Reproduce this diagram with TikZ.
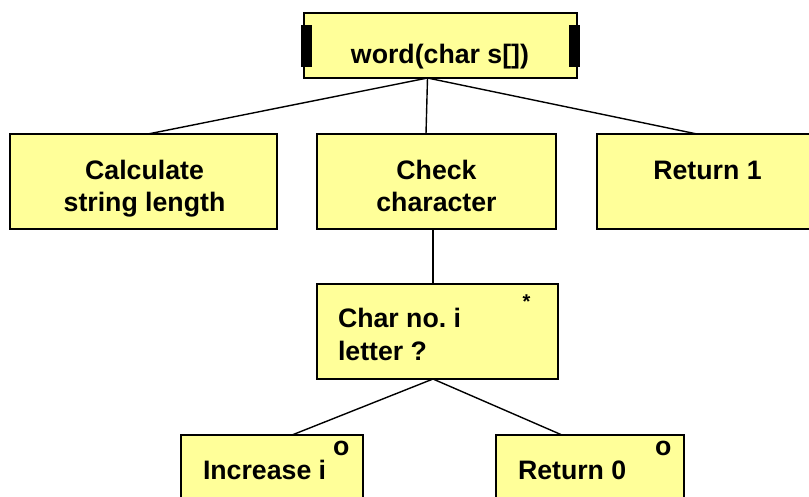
\documentclass[tikz,border=0pt]{standalone}
\usepackage{fontspec}
\setmainfont{Liberation Sans}
\usetikzlibrary{calc}
\definecolor{boxyellow}{HTML}{FFFF99}
\frenchspacing
\begin{document}
\begin{tikzpicture}[x=1pt,y=-1pt,
  box/.style={draw=black, line width=2pt, fill=boxyellow, inner sep=0pt, outer sep=0pt, anchor=north west, shape=rectangle},
  lbl/.style={font=\fontsize{26.7}{32}\selectfont\bfseries\frenchspacing, inner sep=0pt, outer sep=0pt, anchor=base},
  lbll/.style={lbl, anchor=base west},
  smallmark/.style={inner sep=0pt, outer sep=0pt},
  bar/.style={fill=black, draw=none},
  conn/.style={line width=1.4pt, draw=black}]
\useasboundingbox (0,0) rectangle (809,496);
\clip (0,0) rectangle (809,496);

% boxes
\node[box, minimum width=273pt, minimum height=65pt] (top) at (304,13) {};
\node[box, minimum width=267pt, minimum height=95pt] (b1) at (10,134) {};
\node[box, minimum width=239pt, minimum height=95pt] (b2) at (317,134) {};
\node[box, minimum width=225pt, minimum height=95pt] (b3) at (597,134) {};
\node[box, minimum width=241pt, minimum height=95pt] (c) at (317,284) {};
\node[box, minimum width=182pt, minimum height=105pt] (d1) at (181,435) {};
\node[box, minimum width=188pt, minimum height=105pt] (d2) at (496,435) {};

% bars of the top box
\fill[bar] (301,25) rectangle (312,67);
\fill[bar] (569,25) rectangle (580,67);

% texts
\node[lbl] (ttop) at (440,63) {word(char s[])};
\node[lbl] (t1a) at (144.5,179.5) {Calculate};
\node[lbl] (t1b) at (144.5,211.5) {string length};
\node[lbl] (t2a) at (436.5,179.5) {Check};
\node[lbl] (t2b) at (436.5,211.5) {character};
\node[lbl] (t3) at (707.5,179.5) {Return 1};
\node[lbll] (tca) at (338,327.5) {Char no. i};
\node[lbll] (tcb) at (338,360) {letter ?};
\node[smallmark, font=\fontsize{20}{24}\selectfont\bfseries, anchor=north] (star) at (526.5,295) {*};
\node[lbll] (td1) at (203,479.5) {Increase i};
\node[lbll] (od1) at (333,455) {o};
\node[lbll] (td2) at (518,479.5) {Return 0};
\node[lbll] (od2) at (655,455) {o};

% connectors
\coordinate (j1) at ([xshift=-13pt]top.south);
\draw[conn] (j1) -- ([xshift=4.5pt]b1.north);
\draw[conn] (j1) -- ([xshift=-10.5pt]b2.north);
\draw[conn] (j1) -- ([xshift=-12.5pt]b3.north);
\draw[conn] ([xshift=-3.5pt]b2.south) -- ([xshift=-4.5pt]c.north);
\coordinate (j2) at ([xshift=-4.5pt]c.south);
\draw[conn] (j2) -- ([xshift=20pt]d1.north);
\draw[conn] (j2) -- ([xshift=-28pt]d2.north);
\end{tikzpicture}
\end{document}
